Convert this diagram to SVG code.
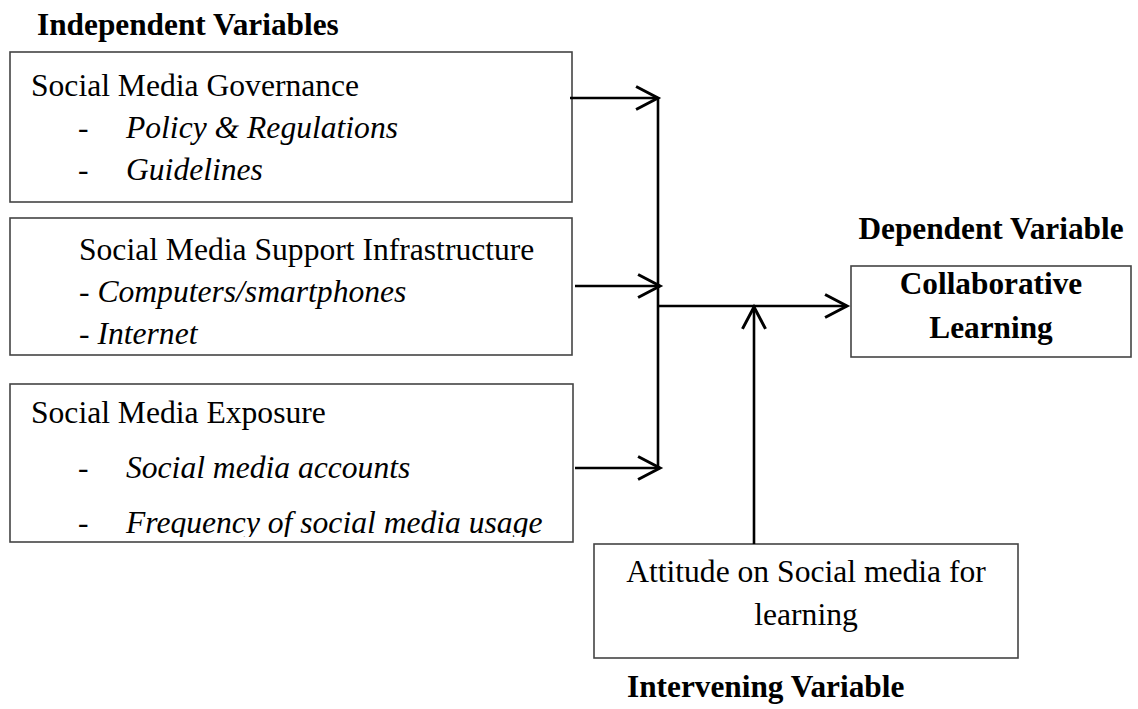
<svg xmlns="http://www.w3.org/2000/svg" width="1138" height="709" viewBox="0 0 1138 709">
<style>
text{font-family:"Liberation Serif","Times New Roman",serif;font-size:31.6px;fill:#000}
.b{font-weight:bold;font-size:31.3px}
.i{font-style:italic}
.box{fill:#fff;stroke:#444;stroke-width:1.6}
.ln{fill:none;stroke:#000;stroke-width:2.6}
</style>
<defs>
<marker id="ah" markerUnits="userSpaceOnUse" markerWidth="30" markerHeight="30" viewBox="-22 -13 26 26" refX="0" refY="0" orient="auto">
<path d="M-19,-10 L0,0 L-19,10" fill="none" stroke="#000" stroke-width="2.6"/>
</marker>
<clipPath id="c3"><rect x="9" y="383" width="565" height="154"/></clipPath>
</defs>
<text class="b" x="37" y="35">Independent Variables</text>
<g id="governance">
<rect class="box" x="10" y="52" width="562" height="150"/>
<text x="31" y="96">Social Media Governance</text>
<text x="78" y="138">-</text><text class="i" x="126" y="138">Policy &amp; Regulations</text>
<text x="78" y="180">-</text><text class="i" x="126" y="180">Guidelines</text>
</g>
<g id="infrastructure">
<rect class="box" x="10" y="218" width="562" height="137"/>
<text x="79" y="260">Social Media Support Infrastructure</text>
<text x="79" y="302">- <tspan class="i">Computers/smartphones</tspan></text>
<text x="79" y="344">- <tspan class="i">Internet</tspan></text>
</g>
<g id="exposure">
<rect class="box" x="10" y="384" width="563" height="158"/>
<g clip-path="url(#c3)">
<text x="31" y="423">Social Media Exposure</text>
<text x="78" y="478">-</text><text class="i" x="126" y="478">Social media accounts</text>
<text x="78" y="533">-</text><text class="i" x="126" y="533">Frequency of social media usage</text>
</g>
</g>
<g id="dependent">
<text class="b" x="991" y="239" text-anchor="middle">Dependent Variable</text>
<rect class="box" x="851" y="266" width="280" height="91"/>
<text class="b" x="991" y="294" text-anchor="middle">Collaborative</text>
<text class="b" x="991" y="338" text-anchor="middle">Learning</text>
</g>
<g id="intervening">
<rect class="box" x="594" y="544" width="424" height="114"/>
<text x="806" y="582" text-anchor="middle">Attitude on Social media for</text>
<text x="806" y="625" text-anchor="middle">learning</text>
<text class="b" x="627" y="697">Intervening Variable</text>
</g>
<g id="connectors">
<line class="ln" x1="570" y1="98" x2="658" y2="98" marker-end="url(#ah)"/>
<line class="ln" x1="575" y1="286" x2="660" y2="286" marker-end="url(#ah)"/>
<line class="ln" x1="575" y1="468" x2="660" y2="468" marker-end="url(#ah)"/>
<line class="ln" x1="658" y1="97" x2="658" y2="469"/>
<line class="ln" x1="657" y1="306" x2="847" y2="306" marker-end="url(#ah)"/>
<line class="ln" x1="754" y1="544" x2="754" y2="307" marker-end="url(#ah)"/>
</g>
</svg>
